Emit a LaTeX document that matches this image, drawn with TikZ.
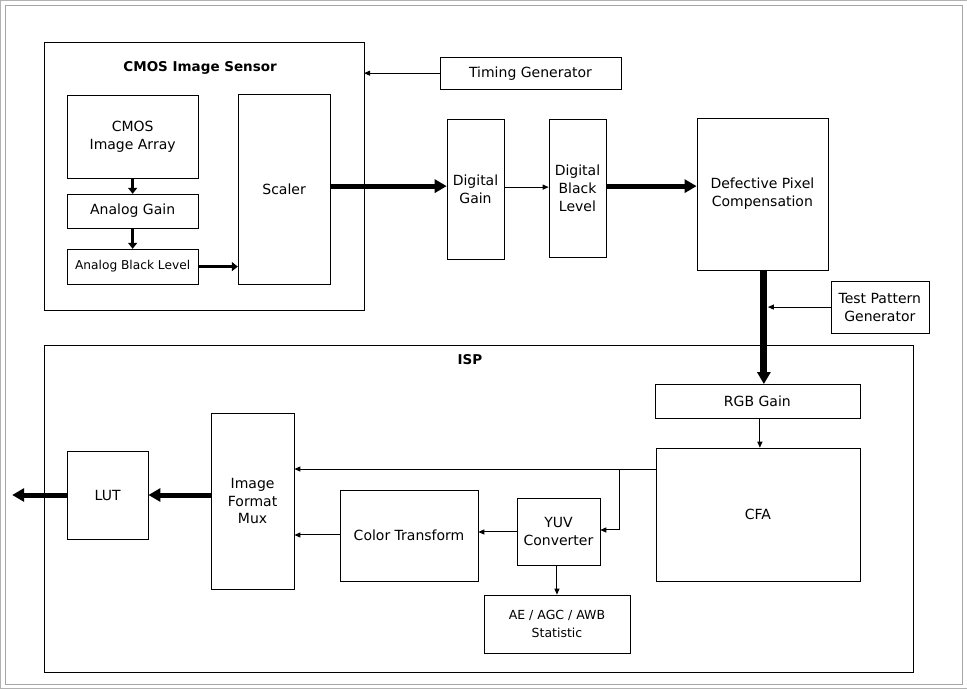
\documentclass[tikz,border=0pt]{standalone}
\usepackage{fontspec}
\setmainfont{DejaVu Sans}
\usetikzlibrary{arrows.meta}
\begin{document}
\begin{tikzpicture}[x=1pt,y=-1pt,
  blk/.style={draw,line width=0.6pt,align=center,font=\fontsize{14}{18}\selectfont},
  thin/.style={-{Triangle[length=6pt,width=5pt]},line width=1pt},
  thick/.style={-{Triangle[length=12pt,width=13pt]},line width=5pt},
  mid/.style={-{Triangle[length=6pt,width=9pt]},line width=3.5pt}]
\draw[gray!60,fill=white] (0,0) rectangle (967,688);
\draw[gray!70] (5,5) rectangle (962,684);
\def\bx#1#2#3#4#5#6{\node[blk,minimum width=#4-#2,minimum height=#5-#3,inner sep=1pt] (#1) at ({(#2+#4)/2},{(#3+#5)/2}) {#6};}
\bx{cis}{44}{42}{364}{310}{}
\node[font=\bfseries\fontsize{13.5}{16}\selectfont] (cist) at (200,68) {CMOS Image Sensor};
\bx{arr}{67}{95}{198}{178}{CMOS\\Image Array}
\bx{ag}{67}{194}{198}{228}{Analog Gain}
\bx{abl}{67}{249}{198}{284}{\fontsize{12.2}{14}\selectfont Analog Black Level}
\bx{sc}{238}{94}{330}{284}{Scaler}
\bx{tg}{440}{57}{621}{89}{Timing Generator}
\bx{dg}{447}{119}{504}{259}{Digital\\Gain}
\bx{dbl}{549}{119}{606}{257}{Digital\\Black\\Level}
\bx{dpc}{697}{118}{828}{270}{Defective Pixel\\Compensation}
\bx{tpg}{831}{281}{929}{333}{Test Pattern\\Generator}
\bx{isp}{44}{345}{913}{672}{}
\node[font=\bfseries\fontsize{13.5}{16}\selectfont] (ispt) at (470,360) {ISP};
\bx{rgb}{655}{384}{860}{418}{RGB Gain}
\bx{cfa}{656}{448}{860}{581}{CFA}
\bx{yuv}{517}{498}{600}{565}{YUV\\Converter}
\bx{ct}{340}{490}{478}{581}{Color Transform}
\bx{mux}{211}{413}{294}{589}{Image\\Format\\Mux}
\bx{lut}{67}{451}{148}{539}{LUT}
\bx{ae}{484}{595}{630}{653}{\fontsize{12.5}{16}\selectfont AE / AGC / AWB\\\fontsize{12.5}{16}\selectfont Statistic}
\coordinate (out) at (12,495);
\coordinate (cisr) at (364,73);
\coordinate (tpj) at (768,307);
\draw[thin] (tg.west) -- (cisr);
\draw[mid] (arr.south) -- (ag.north);
\draw[mid] (ag.south) -- (abl.north);
\draw[mid] (abl.east) -- (sc.west|-abl.east);
\draw[thick] (sc.east|-0,186) -- (dg.west|-0,186);
\draw[thin] (dg.east|-0,187) -- (dbl.west|-0,187);
\draw[thick] (dbl.east|-0,186) -- (dpc.west|-0,186);
\draw[thick,line width=7pt] (764,270) -- (764,384);
\draw[thin] (tpg.west|-tpj) -- (tpj);
\draw[thin] (rgb.south-|760,0) -- (cfa.north-|760,0);
\draw[thin] (cfa.west|-0,469) -- (mux.east|-0,469);
\draw[thin] (620,469) -- (620,530) -- (yuv.east|-0,530);
\draw[thin] (yuv.south-|557,0) -- (ae.north-|557,0);
\draw[thin] (yuv.west|-0,532) -- (ct.east|-0,532);
\draw[thin] (ct.west|-0,535) -- (mux.east|-0,535);
\draw[thick] (mux.west|-0,495) -- (lut.east|-0,495);
\draw[thick] (lut.west|-0,495) -- (out);
\end{tikzpicture}
\end{document}
